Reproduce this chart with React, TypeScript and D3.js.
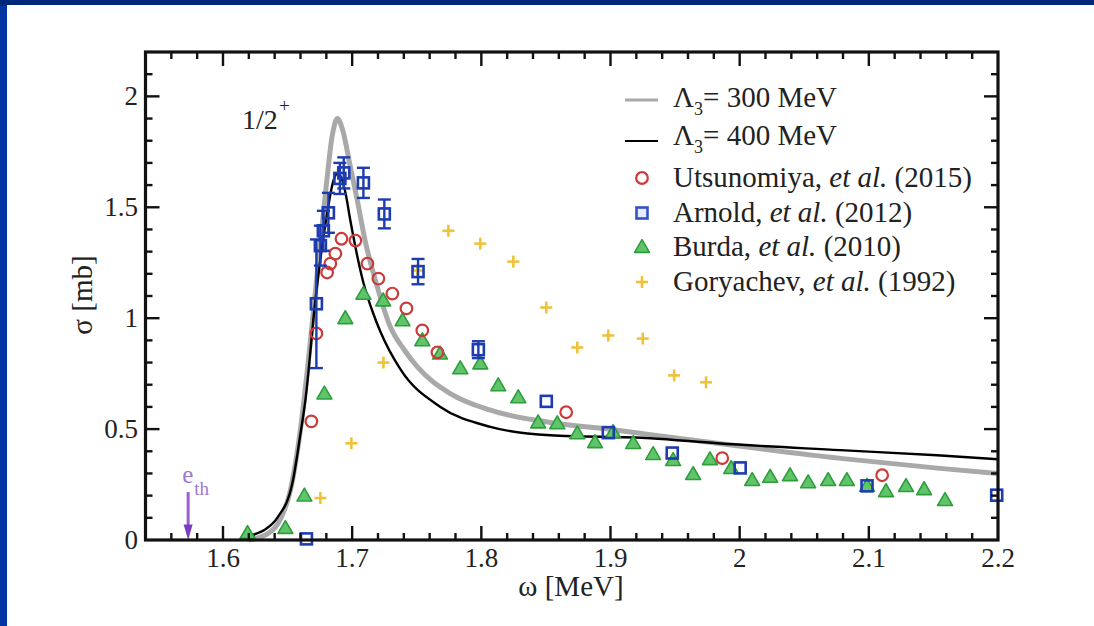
import React from "react";
import * as d3 from "d3";

// ---------- data ----------
const xTickLabels = [1.6, 1.7, 1.8, 1.9, 2.0, 2.1, 2.2];
const yTickLabels = [0, 0.5, 1, 1.5, 2];

// Lambda_3 = 300 MeV (gray)
const lambda300: [number, number][] = [
  [1.62, 0], [1.635, 0.03], [1.645, 0.1], [1.652, 0.22], [1.66, 0.5], [1.667, 0.86],
  [1.674, 1.26], [1.68, 1.6], [1.6845, 1.82], [1.6886, 1.9], [1.693, 1.84],
  [1.698, 1.7], [1.704, 1.53], [1.71, 1.35], [1.7195, 1.14], [1.7296, 0.96],
  [1.74, 0.86], [1.7505, 0.78], [1.776, 0.66], [1.807, 0.585], [1.8534, 0.53],
  [1.905, 0.495], [1.931, 0.475], [1.9826, 0.436], [2.078, 0.368], [2.153, 0.324], [2.2, 0.3],
];

// Lambda_3 = 400 MeV (black)
const lambda400: [number, number][] = [
  [1.62, 0], [1.6212, 0.013], [1.632, 0.045], [1.642, 0.1], [1.6537, 0.256], [1.66, 0.48],
  [1.6638, 0.63], [1.6715, 1.08], [1.68, 1.45], [1.6855, 1.62], [1.689, 1.655],
  [1.695, 1.56], [1.6986, 1.44], [1.7087, 1.16], [1.7164, 1.02], [1.7218, 0.94],
  [1.7373, 0.77], [1.7683, 0.6], [1.807, 0.51], [1.8534, 0.472], [1.931, 0.459],
  [1.9826, 0.436], [2.0778, 0.405], [2.1528, 0.382], [2.2, 0.364],
];

// Utsunomiya et al. (2015)
const utsunomiya: [number, number][] = [
  [1.6684, 0.535], [1.6723, 0.931], [1.6806, 1.206], [1.6831, 1.246], [1.687, 1.291],
  [1.6917, 1.358], [1.7025, 1.35], [1.7118, 1.246], [1.7203, 1.178], [1.7311, 1.111],
  [1.742, 1.044], [1.7543, 0.945], [1.766, 0.846], [1.8657, 0.576], [1.9865, 0.369], [2.1103, 0.292],
];

// Arnold et al. (2012): x, y, error
const arnold: [number, number, number][] = [
  [1.6646, 0.005, 0], [1.6723, 1.065, 0.29], [1.6754, 1.327, 0.09], [1.6777, 1.394, 0.09],
  [1.6816, 1.475, 0.09], [1.6905, 1.63, 0.07], [1.6935, 1.655, 0.07], [1.7087, 1.61, 0.068],
  [1.7249, 1.47, 0.065], [1.751, 1.21, 0.057], [1.7977, 0.858, 0.038], [1.8503, 0.625, 0],
  [1.8983, 0.484, 0], [1.9478, 0.392, 0], [2.0004, 0.325, 0], [2.0986, 0.244, 0], [2.199, 0.202, 0],
];

// Burda et al. (2010)
const burda: [number, number][] = [
  [1.619, 0.031], [1.6483, 0.054], [1.663, 0.2], [1.6785, 0.66], [1.6947, 1.0], [1.7087, 1.11],
  [1.724, 1.08], [1.739, 0.99], [1.7543, 0.9], [1.768, 0.84], [1.7837, 0.774], [1.7992, 0.796],
  [1.8131, 0.697], [1.8286, 0.643], [1.844, 0.53], [1.8588, 0.526], [1.8743, 0.481], [1.888, 0.441],
  [1.902, 0.486], [1.9176, 0.437], [1.933, 0.387], [1.9485, 0.36], [1.964, 0.297], [1.977, 0.364],
  [1.9934, 0.324], [2.0097, 0.27], [2.0236, 0.285], [2.039, 0.292], [2.053, 0.26], [2.0685, 0.27],
  [2.083, 0.27], [2.0986, 0.244], [2.1133, 0.22], [2.1288, 0.243], [2.1428, 0.229], [2.159, 0.18],
];

// Goryachev et al. (1992)
const goryachev: [number, number][] = [
  [1.6754, 0.189], [1.6994, 0.436], [1.7242, 0.8], [1.7505, 1.215], [1.7745, 1.394],
  [1.7992, 1.336], [1.8248, 1.255], [1.8503, 1.048], [1.8743, 0.868], [1.8983, 0.922],
  [1.925, 0.908], [1.9493, 0.742], [1.974, 0.711],
];

const thresholdX = 1.573;

// ---------- layout ----------
const W = 1094;
const H = 626;
const M = { left: 145.5, right: 998, top: 52, bottom: 540 };
const TF = { fontFamily: '"Liberation Serif"' };

const C_GRAY = "#a9a9a9";
const C_RED = "#cc3a3a";
const C_BLUE = "#1d3cb0";
const C_GREEN_FILL = "#62c46a";
const C_GREEN = "#2c9e3c";
const C_GOLD = "#f0c23a";
const C_PURPLE = "#9a5fd6";
const C_TEXT = "#222";

export default function App() {
  const x = d3.scaleLinear().domain([1.54, 2.2]).range([M.left, M.right]);
  const y = d3.scaleLinear().domain([0, 2.2]).range([M.bottom, M.top]);

  const line = d3
    .line<[number, number]>()
    .x((d) => x(d[0]))
    .y((d) => y(d[1]))
    .curve(d3.curveMonotoneX);

  const xMinor = d3.range(1.54, 2.2001, 0.02).filter((v) => v > 1.541 && v < 2.199);
  const yMinor = d3.range(0.1, 2.2, 0.1);

  const isMajorX = (v: number) => xTickLabels.some((m) => Math.abs(m - v) < 1e-6);
  const isMajorY = (v: number) => yTickLabels.some((m) => Math.abs(m - v) < 1e-6);

  const tri = (cx: number, cy: number, s: number) =>
    `M${cx},${cy - s * 0.62} L${cx + s * 0.62},${cy + s * 0.45} L${cx - s * 0.62},${cy + s * 0.45} Z`;

  const circleM = (cx: number, cy: number, k: string | number) => (
    <circle key={k} cx={cx} cy={cy} r={5.8} fill="none" stroke={C_RED} strokeWidth={2.2} />
  );
  const squareM = (cx: number, cy: number, k: string | number) => (
    <rect key={k} x={cx - 5.5} y={cy - 5.5} width={11} height={11} fill="none" stroke={C_BLUE} strokeWidth={2.6} />
  );
  const triM = (cx: number, cy: number, k: string | number) => (
    <path key={k} d={tri(cx, cy, 12)} fill={C_GREEN_FILL} stroke={C_GREEN} strokeWidth={1.6} strokeLinejoin="round" />
  );
  const plusM = (cx: number, cy: number, k: string | number) => (
    <g key={k} stroke={C_GOLD} strokeWidth={2.6}>
      <line x1={cx - 6} x2={cx + 6} y1={cy} y2={cy} />
      <line x1={cx} x2={cx} y1={cy - 6} y2={cy + 6} />
    </g>
  );

  const legendX = 625;
  const legendText = 673;
  const legRows = [100, 141, 178, 213, 247, 282];
  const LFS = 29;

  const thX = x(thresholdX);

  return (
    <svg width={W} height={H} style={{ position: "fixed", left: 0, top: 0, display: "block" }}>
      <rect x={0} y={0} width={W} height={H} fill="#0034a0" />
      <rect x={0} y={0} width={W} height={6} fill="#00287a" />
      <rect x={7} y={5} width={W - 7} height={H - 5} fill="#ffffff" />

      {/* curves */}
      <path d={line(lambda300) || ""} fill="none" stroke={C_GRAY} strokeWidth={5} />
      <path d={line(lambda400) || ""} fill="none" stroke="#000" strokeWidth={2.4} />

      {/* data */}
      <g>{goryachev.map((d, i) => plusM(x(d[0]), y(d[1]), "g" + i))}</g>
      <g>{burda.map((d, i) => triM(x(d[0]), y(d[1]), "b" + i))}</g>
      <g>{utsunomiya.map((d, i) => circleM(x(d[0]), y(d[1]), "u" + i))}</g>
      <g>
        {arnold.map((d, i) => {
          const cx = x(d[0]);
          const cy = y(d[1]);
          const e = d[2];
          return (
            <g key={"a" + i}>
              {e > 0 && (
                <g stroke={C_BLUE} strokeWidth={2.4}>
                  <line x1={cx} x2={cx} y1={y(d[1] + e)} y2={y(d[1] - e)} />
                  <line x1={cx - 6.5} x2={cx + 6.5} y1={y(d[1] + e)} y2={y(d[1] + e)} />
                  <line x1={cx - 6.5} x2={cx + 6.5} y1={y(d[1] - e)} y2={y(d[1] - e)} />
                </g>
              )}
              {squareM(cx, cy, "as" + i)}
            </g>
          );
        })}
      </g>

      {/* threshold arrow */}
      <g>
        <line x1={thX} x2={thX} y1={y(0.216)} y2={y(0.06)} stroke={C_PURPLE} strokeWidth={3} />
        <path d={`M${thX - 4.5},${y(0.07)} L${thX + 4.5},${y(0.07)} L${thX},${y(0)} Z`} fill="#7a3cc0" />
        <text x={thX - 6} y={y(0.255)} fontSize={25} fill="#9c78d0" style={TF}>e</text>
        <text x={thX + 6} y={y(0.205)} fontSize={19} fill="#9c78d0" style={TF}>th</text>
      </g>

      {/* 1/2+ label */}
      <text x={242} y={129} fontSize={28} fill={C_TEXT} style={TF}>1/2</text>
      <text x={279} y={112} fontSize={19} fill={C_TEXT} style={TF}>+</text>

      {/* frame */}
      <rect
        x={M.left}
        y={M.top}
        width={M.right - M.left}
        height={M.bottom - M.top}
        fill="none"
        stroke="#111"
        strokeWidth={3.2}
      />

      {/* ticks */}
      <g stroke="#111" strokeWidth={2.4}>
        {xMinor.map((v, i) => {
          const L = isMajorX(v) ? 14 : 7;
          const px = x(v);
          return (
            <g key={"xt" + i}>
              <line x1={px} x2={px} y1={M.bottom} y2={M.bottom - L} />
              <line x1={px} x2={px} y1={M.top} y2={M.top + L} />
            </g>
          );
        })}
        {yMinor.map((v, i) => {
          const L = isMajorY(v) ? 14 : 7;
          const py = y(v);
          return (
            <g key={"yt" + i}>
              <line x1={M.left} x2={M.left + L} y1={py} y2={py} />
              <line x1={M.right} x2={M.right - L} y1={py} y2={py} />
            </g>
          );
        })}
      </g>

      {/* tick labels */}
      {xTickLabels.map((v) => (
        <text key={"xl" + v} x={x(v)} y={567} fontSize={27} fill={C_TEXT} textAnchor="middle" style={TF}>
          {d3.format("")(v)}
        </text>
      ))}
      {yTickLabels.map((v) => (
        <text key={"yl" + v} x={138} y={y(v) + 9} fontSize={27} fill={C_TEXT} textAnchor="end" style={TF}>
          {d3.format("")(v)}
        </text>
      ))}

      {/* axis labels */}
      <text x={571} y={596} fontSize={29} fill={C_TEXT} textAnchor="middle" style={TF}>
        ω [MeV]
      </text>
      <text transform="translate(92,295) rotate(-90)" fontSize={29} fill={C_TEXT} textAnchor="middle" style={TF}>
        σ [mb]
      </text>

      {/* legend */}
      <line x1={legendX} x2={legendX + 33} y1={legRows[0]} y2={legRows[0]} stroke={C_GRAY} strokeWidth={3} />
      <text x={legendText} y={legRows[0] + 7} fontSize={LFS} fill={C_TEXT} style={TF}>
        Λ<tspan fontSize={18} dy={8}>3</tspan>
        <tspan dy={-8}>= 300 MeV</tspan>
      </text>
      <line x1={legendX} x2={legendX + 33} y1={legRows[1]} y2={legRows[1]} stroke="#000" strokeWidth={2.2} />
      <text x={legendText} y={legRows[1] + 4} fontSize={LFS} fill={C_TEXT} style={TF}>
        Λ<tspan fontSize={18} dy={8}>3</tspan>
        <tspan dy={-8}>= 400 MeV</tspan>
      </text>

      {circleM(642, legRows[2], "lc")}
      <text x={legendText} y={legRows[2] + 9} fontSize={LFS} fill={C_TEXT} style={TF}>
        Utsunomiya, <tspan fontStyle="italic">et al.</tspan> (2015)
      </text>
      <rect x={642 - 5.5} y={legRows[3] - 5.5} width={11} height={11} fill="#e8ecff" stroke="#3352c4" strokeWidth={2.6} />
      <text x={legendText} y={legRows[3] + 9} fontSize={LFS} fill={C_TEXT} style={TF}>
        Arnold, <tspan fontStyle="italic">et al.</tspan> (2012)
      </text>
      {triM(642, legRows[4], "lt")}
      <text x={legendText} y={legRows[4] + 9} fontSize={LFS} fill={C_TEXT} style={TF}>
        Burda, <tspan fontStyle="italic">et al.</tspan> (2010)
      </text>
      {plusM(642, legRows[5], "lp")}
      <text x={legendText} y={legRows[5] + 9} fontSize={LFS} fill={C_TEXT} style={TF}>
        Goryachev, <tspan fontStyle="italic">et al.</tspan> (1992)
      </text>
    </svg>
  );
}
